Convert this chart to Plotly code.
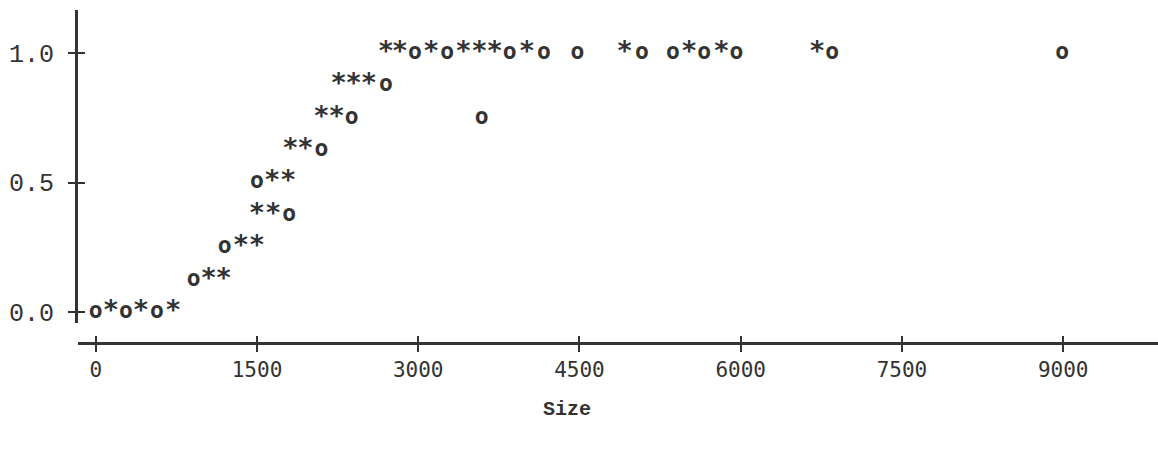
import plotly.graph_objects as go

# "o" series
o_x = [0, 280, 570,
       910, 1200, 1800, 1500, 2100, 2380, 3590, 2700,
       2970, 3270, 3850, 4170, 4480, 5080, 5370, 5660, 5960, 6850, 8990]
o_y = [0.0, 0.0, 0.0,
       0.125, 0.25, 0.375, 0.5, 0.625, 0.75, 0.75, 0.875,
       1.0, 1.0, 1.0, 1.0, 1.0, 1.0, 1.0, 1.0, 1.0, 1.0, 1.0]

# "*" series
star_x = [140, 420, 720,
          1050, 1190,
          1350, 1500,
          1500, 1650,
          1640, 1790,
          1810, 1950,
          2100, 2240,
          2260, 2400, 2540,
          2700, 2830, 3120, 3420, 3570, 3710, 4010, 4920, 5520, 5820, 6710]
star_y = [0.0, 0.0, 0.0,
          0.125, 0.125,
          0.25, 0.25,
          0.375, 0.375,
          0.5, 0.5,
          0.625, 0.625,
          0.75, 0.75,
          0.875, 0.875, 0.875,
          1.0, 1.0, 1.0, 1.0, 1.0, 1.0, 1.0, 1.0, 1.0, 1.0, 1.0]

x_tickvals = [0, 1500, 3000, 4500, 6000, 7500, 9000]
x_ticktext = ["0", "1500", "3000", "4500", "6000", "7500", "9000"]
y_tickvals = [0.0, 0.5, 1.0]
y_ticktext = ["0.0", "0.5", "1.0"]
x_title = "Size"

INK = "#333333"
x_range = [-165, 9882]
y_range = [-0.0405, 1.1657]
x_pos = 0.0263
y_dom = [0.0848, 1.0]

o_font = dict(family="DejaVu Sans Mono", size=23, color=INK, weight="bold")
star_font = dict(family="DejaVu Sans Mono", size=27, color=INK, weight="bold")

fig = go.Figure()
fig.add_trace(go.Scatter(x=o_x, y=o_y, mode="text", text=["o"] * len(o_x),
                         textposition="middle center", textfont=o_font,
                         hoverinfo="skip", showlegend=False))
fig.add_trace(go.Scatter(x=star_x, y=star_y, mode="text", text=["*"] * len(star_x),
                         textposition="middle center", textfont=star_font,
                         hoverinfo="skip", showlegend=False))
# invisible trace on overlay axes (used to draw the inner half of the crossing ticks)
fig.add_trace(go.Scatter(x=[None], y=[None], xaxis="x2", yaxis="y2", mode="markers",
                         hoverinfo="skip", showlegend=False))

fig.update_layout(
    width=1158, height=452,
    margin=dict(l=78, r=0, t=10, b=100),
    paper_bgcolor="white", plot_bgcolor="white",
    showlegend=False,
    xaxis=dict(range=x_range, anchor="free", position=x_pos,
               showgrid=False, zeroline=False,
               showline=True, linewidth=3, linecolor=INK,
               ticks="outside", ticklen=7, tickwidth=2, tickcolor=INK,
               tickvals=x_tickvals, ticktext=x_ticktext,
               tickfont=dict(family="DejaVu Sans Mono", size=21, color=INK),
               ticklabelstandoff=0),
    xaxis2=dict(range=x_range, overlaying="x", anchor="free", position=x_pos,
                showgrid=False, zeroline=False, showline=False,
                ticks="inside", ticklen=7, tickwidth=2, tickcolor=INK,
                tickvals=x_tickvals, showticklabels=False),
    yaxis=dict(range=y_range, domain=y_dom, anchor="x",
               showgrid=False, zeroline=False,
               showline=True, linewidth=3, linecolor=INK,
               ticks="outside", ticklen=7, tickwidth=2, tickcolor=INK,
               tickvals=y_tickvals, ticktext=y_ticktext,
               tickfont=dict(family="Liberation Mono", size=25, color=INK),
               ticklabelstandoff=9),
    yaxis2=dict(range=y_range, overlaying="y", anchor="x2", side="left",
                showgrid=False, zeroline=False, showline=False,
                ticks="inside", ticklen=7, tickwidth=2, tickcolor=INK,
                tickvals=y_tickvals, showticklabels=False),
    annotations=[dict(text=x_title, xref="x", yref="paper", x=4385, y=-0.1667,
                      xanchor="center", yanchor="middle", showarrow=False,
                      font=dict(family="Liberation Mono", size=20, color=INK, weight="bold"))],
)

fig.write_html("out.html")
